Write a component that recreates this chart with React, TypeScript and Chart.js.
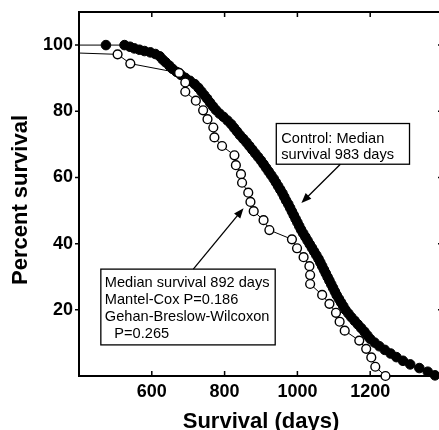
import React, { useEffect, useRef } from 'react';
import { Chart, registerables } from 'chart.js';

Chart.register(...registerables);

// ---- axes ----
const X_MIN = 400;
const X_MAX = 1400;
const Y_MIN = 0;
const Y_MAX = 110;
const X_TICK_LABELS = [600, 800, 1000, 1200];
const Y_TICK_LABELS = [20, 40, 60, 80, 100];
const X_TITLE = 'Survival (days)';
const Y_TITLE = 'Percent survival';

// ---- Control (filled circles); first entry is the curve start at the axis ----
const controlDays = [
  400, 474, 525, 540, 552, 566, 580, 596, 610, 622, 630, 638, 648, 657, 668, 680, 692, 705, 718, 728,
  736, 744, 752, 760, 768, 776, 786, 797, 808, 818, 826, 834, 842, 851, 860, 868, 876, 884, 892, 900,
  907, 914, 921, 928, 935, 941, 947, 953, 959, 964, 969, 975, 980, 985, 990, 995, 1000, 1005, 1010, 1016,
  1022, 1028, 1034, 1040, 1046, 1052, 1058, 1063, 1068, 1073, 1078, 1083, 1088, 1093, 1098, 1103, 1108, 1114, 1120, 1126,
  1132, 1140, 1148, 1157, 1166, 1175, 1184, 1192, 1200, 1212, 1225, 1240, 1256, 1272, 1290, 1310, 1335, 1358, 1378,
];
const controlPercent = [
  100, 100, 100, 99.5, 99.0, 98.6, 98.2, 97.8, 97.3, 96.6, 95.6, 94.8, 93.8, 92.8, 91.9, 91.0, 90.1, 89.2, 88.2, 87.1,
  86.0, 84.9, 83.8, 82.6, 81.5, 80.4, 79.3, 78.3, 77.2, 76.1, 75.0, 73.9, 72.8, 71.7, 70.6, 69.5, 68.4, 67.3, 66.2, 65.1,
  64.0, 62.9, 61.8, 60.7, 59.6, 58.5, 57.4, 56.3, 55.2, 54.1, 53.0, 51.9, 50.8, 49.7, 48.6, 47.5, 46.4, 45.3, 44.2, 43.1,
  42.0, 40.9, 39.8, 38.7, 37.6, 36.5, 35.4, 34.3, 33.2, 32.1, 31.0, 29.9, 28.8, 27.7, 26.6, 25.5, 24.4, 23.3, 22.2, 21.1,
  20.0, 18.9, 17.8, 16.7, 15.6, 14.5, 13.4, 12.3, 11.2, 10.1, 9.0, 7.9, 6.8, 5.7, 4.6, 3.5, 2.4, 1.3, 0.2,
];

// ---- Treated (open circles); first entry is the curve start at the axis ----
const treatedDays = [
  400, 506, 541, 675, 692, 692, 721, 741, 753, 769, 772, 793, 827, 831, 845, 848, 865, 871, 880, 907,
  923, 985, 999, 1017, 1033, 1035, 1035, 1068, 1088, 1106, 1116, 1130, 1170, 1189, 1203, 1214, 1242,
];
const treatedPercent = [
  97.6, 97.2, 94.4, 91.6, 88.7, 85.9, 83.2, 80.3, 77.6, 75.1, 72.1, 69.5, 66.7, 63.7, 61.0, 58.4, 55.4, 52.6, 49.8, 47.1,
  44.1, 41.3, 38.6, 35.9, 33.2, 30.5, 27.8, 24.5, 21.8, 19.1, 16.4, 13.7, 10.7, 8.2, 5.6, 2.8, 0,
];

// ---- annotation texts ----
const controlNote = ['Control: Median', 'survival 983 days'];
const treatedNote = ['Median survival 892 days', 'Mantel-Cox P=0.186', 'Gehan-Breslow-Wilcoxon', 'P=0.265'];

// annotation placement (data coordinates)
const NOTES = [
  { lines: controlNote, indent: [0, 0], box: [942, 76.3, 1308, 64.0], textX: 5, base: 19, gap: 16.5, from: [1118, 64.0], to: [1011, 52.3] },
  { lines: treatedNote, indent: [0, 0, 0, 9.5], box: [460, 32.3, 939, 9.4], textX: 4, base: 18, gap: 16.8, from: [714, 32.3], to: [852, 50.7] },
];

const FAMILY = '"Liberation Sans", Arial, Helvetica, sans-serif';

function drawArrow(ctx: CanvasRenderingContext2D, x1: number, y1: number, x2: number, y2: number) {
  const ang = Math.atan2(y2 - y1, x2 - x1);
  const len = 10;
  const w = 4;
  ctx.beginPath();
  ctx.moveTo(x1, y1);
  ctx.lineTo(x2 - Math.cos(ang) * len * 0.7, y2 - Math.sin(ang) * len * 0.7);
  ctx.stroke();
  ctx.beginPath();
  ctx.moveTo(x2, y2);
  ctx.lineTo(x2 - len * Math.cos(ang) + w * Math.sin(ang), y2 - len * Math.sin(ang) - w * Math.cos(ang));
  ctx.lineTo(x2 - len * Math.cos(ang) - w * Math.sin(ang), y2 - len * Math.sin(ang) + w * Math.cos(ang));
  ctx.closePath();
  ctx.fill();
}

const framePlugin = {
  id: 'frame',
  beforeDatasetsDraw(chart: any) {
    const { ctx, chartArea: a, scales } = chart;
    const x = scales.x;
    const y = scales.y;
    ctx.save();
    ctx.strokeStyle = '#000';
    ctx.lineWidth = 2;
    ctx.beginPath();
    ctx.moveTo(a.right + 1, a.top);
    ctx.lineTo(a.left, a.top);
    ctx.lineTo(a.left, a.bottom);
    ctx.lineTo(a.right + 1, a.bottom);
    ctx.stroke();
    ctx.lineWidth = 1.5;
    ctx.beginPath();
    for (const v of X_TICK_LABELS) {
      const px = x.getPixelForValue(v);
      ctx.moveTo(px, a.bottom);
      ctx.lineTo(px, a.bottom - 5);
      ctx.moveTo(px, a.top);
      ctx.lineTo(px, a.top + 5);
    }
    for (const v of Y_TICK_LABELS) {
      const py = y.getPixelForValue(v);
      ctx.moveTo(a.left, py);
      ctx.lineTo(a.left - 4, py);
      ctx.moveTo(a.right, py);
      ctx.lineTo(a.right - 5, py);
    }
    ctx.stroke();
    ctx.restore();
  },
  afterDraw(chart: any) {
    const { ctx, chartArea: a, scales } = chart;
    const x = scales.x;
    const y = scales.y;
    ctx.save();
    ctx.fillStyle = '#000';
    ctx.strokeStyle = '#000';
    // annotations
    ctx.font = `14.6px ${FAMILY}`;
    ctx.textAlign = 'left';
    ctx.textBaseline = 'alphabetic';
    for (const n of NOTES) {
      const l = x.getPixelForValue(n.box[0]);
      const t = y.getPixelForValue(n.box[1]);
      const r = x.getPixelForValue(n.box[2]);
      const b = y.getPixelForValue(n.box[3]);
      ctx.lineWidth = 1.3;
      ctx.strokeRect(l, t, r - l, b - t);
      n.lines.forEach((s, i) => {
        ctx.fillText(s, l + n.textX + n.indent[i], t + n.base + i * n.gap);
      });
      ctx.lineWidth = 1.3;
      drawArrow(ctx, x.getPixelForValue(n.from[0]), y.getPixelForValue(n.from[1]), x.getPixelForValue(n.to[0]), y.getPixelForValue(n.to[1]));
    }
    // axis titles
    ctx.font = `bold 22px ${FAMILY}`;
    ctx.textAlign = 'center';
    ctx.textBaseline = 'alphabetic';
    ctx.fillText(X_TITLE, (a.left + a.right) / 2, 428);
    ctx.translate(27, 200);
    ctx.rotate(-Math.PI / 2);
    ctx.fillText(Y_TITLE, 0, 0);
    ctx.restore();
  },
};

function zeroPadding(s: any) {
  s.paddingTop = 0;
  s.paddingBottom = 0;
  s.paddingLeft = 0;
  s.paddingRight = 0;
}

export default function App() {
  const ref = useRef<HTMLCanvasElement>(null);
  useEffect(() => {
    const canvas = ref.current;
    if (!canvas) return;
    const control = controlDays.map((d, i) => ({ x: d, y: controlPercent[i] }));
    const treated = treatedDays.map((d, i) => ({ x: d, y: treatedPercent[i] }));
    const chart = new Chart(canvas, {
      type: 'line',
      data: {
        datasets: [
          {
            label: 'Treated',
            data: treated,
            borderColor: '#000',
            borderWidth: 1,
            tension: 0,
            pointRadius: (c: any) => (c.dataIndex === 0 ? 0 : 4.4),
            pointBackgroundColor: '#fff',
            pointBorderColor: '#000',
            pointBorderWidth: 1.4,
            clip: false as any,
            order: 0,
          },
          {
            label: 'Control',
            data: control,
            borderColor: '#000',
            borderWidth: 1,
            tension: 0,
            pointRadius: (c: any) => (c.dataIndex === 0 ? 0 : 4.8),
            pointBackgroundColor: '#000',
            pointBorderColor: '#000',
            pointBorderWidth: 1,
            clip: false as any,
            order: 1,
          },
        ],
      },
      options: {
        responsive: false,
        animation: false,
        devicePixelRatio: 1,
        layout: { padding: { top: 12, right: 7, left: 0, bottom: 0 } },
        plugins: { legend: { display: false }, tooltip: { enabled: false } },
        scales: {
          x: {
            type: 'linear',
            min: X_MIN,
            max: X_MAX,
            grid: { display: false, drawTicks: false },
            border: { display: false },
            ticks: {
              stepSize: 200,
              autoSkip: false,
              maxRotation: 0,
              padding: 5,
              color: '#000',
              font: { family: FAMILY, size: 18, weight: 'bold' },
              callback: (v: any) => (X_TICK_LABELS.includes(Number(v)) ? String(v) : ''),
            },
            afterFit: (s: any) => {
              s.height = 54;
              zeroPadding(s);
            },
          },
          y: {
            type: 'linear',
            min: Y_MIN,
            max: Y_MAX,
            grid: { display: false, drawTicks: false },
            border: { display: false },
            ticks: {
              stepSize: 20,
              autoSkip: false,
              padding: 6,
              color: '#000',
              font: { family: FAMILY, size: 18, weight: 'bold' },
              callback: (v: any) => (Y_TICK_LABELS.includes(Number(v)) ? String(v) : ''),
            },
            afterFit: (s: any) => {
              s.width = 79;
              zeroPadding(s);
            },
          },
        },
      },
      plugins: [framePlugin],
    });
    return () => chart.destroy();
  }, []);
  return (
    <div style={{ position: 'fixed', left: 0, top: 0, width: 439, height: 430, overflow: 'hidden', background: '#fff' }}>
      <canvas ref={ref} width={450} height={430} style={{ display: 'block', width: 450, height: 430 }} />
    </div>
  );
}
